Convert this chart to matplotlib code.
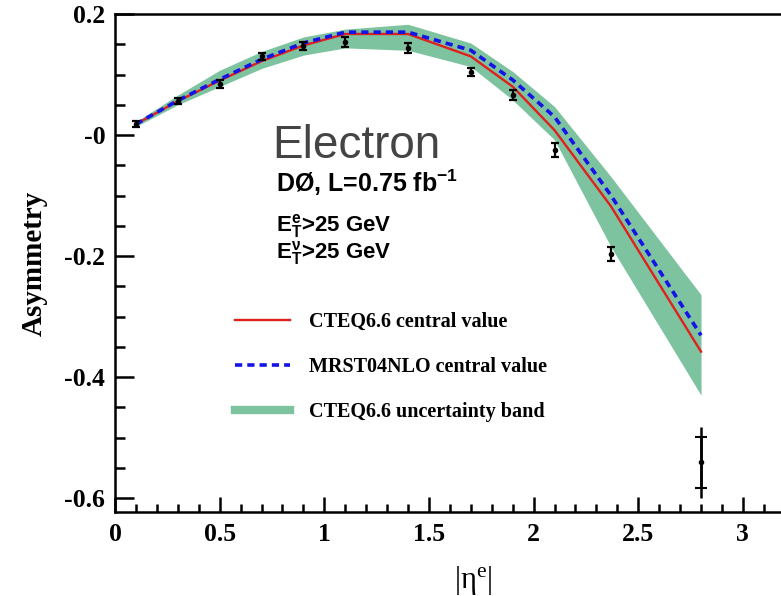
import matplotlib
matplotlib.use("Agg")
import matplotlib.pyplot as plt
from matplotlib.lines import Line2D
from matplotlib.ticker import MultipleLocator, FixedLocator, FixedFormatter

plt.rcParams['mathtext.fontset'] = 'custom'
plt.rcParams['mathtext.rm'] = 'Liberation Serif'
plt.rcParams['mathtext.sf'] = 'Liberation Sans:bold'

# data points
eta = [0.1, 0.3, 0.5, 0.7, 0.9, 1.1, 1.4, 1.7, 1.9, 2.1, 2.37]
asym = [0.018, 0.056, 0.084, 0.130, 0.147, 0.154, 0.144, 0.104, 0.066, -0.025, -0.197]
err = [0.005, 0.005, 0.007, 0.006, 0.006, 0.008, 0.008, 0.006, 0.008, 0.011, 0.012]
eta_last = [2.8]
asym_last = [-0.541]
err_last_stat = [0.042]
err_last_tot = [0.059]

# theory curves
th_eta = [0.1, 0.3, 0.5, 0.7, 0.9, 1.1, 1.4, 1.7, 1.9, 2.1, 2.37, 2.8]
cteq = [0.018, 0.056, 0.090, 0.122, 0.148, 0.167, 0.167, 0.130, 0.080, 0.008, -0.118, -0.358]
mrst = [0.018, 0.057, 0.092, 0.125, 0.152, 0.170, 0.170, 0.140, 0.091, 0.030, -0.100, -0.331]
band_hi = [0.022, 0.066, 0.107, 0.138, 0.162, 0.175, 0.183, 0.152, 0.105, 0.047, -0.069, -0.264]
band_lo = [0.014, 0.050, 0.080, 0.110, 0.132, 0.144, 0.140, 0.113, 0.058, -0.008, -0.185, -0.430]

yticks = [0.2, 0.0, -0.2, -0.4, -0.6]
ytick_labels = ['0.2', '-0', '-0.2', '-0.4', '-0.6']
xticks = [0, 0.5, 1, 1.5, 2, 2.5, 3]
xtick_labels = ['0', '0.5', '1', '1.5', '2', '2.5', '3']

green = '#7dc3a0'
red = '#e0201c'
blue = '#1414e6'

fig = plt.figure(figsize=(7.81, 5.96), dpi=100)
ax_w = 3.3 * 209.3
ax = fig.add_axes([115/781, 1-512/596, ax_w/781, 498/596])
ax.set_xlim(0, 3.3)
ax.set_ylim(-0.623, 0.2)

ax.fill_between(th_eta, band_lo, band_hi, color=green, lw=0, zorder=1)
ax.plot(th_eta, cteq, color=red, lw=1.7, zorder=2)
ax.plot(th_eta, mrst, color=blue, lw=2.6, dashes=(2.0, 1.4), zorder=3)

ax.errorbar(eta, asym, yerr=err, fmt='o', ms=3, color='black', ecolor='black',
            elinewidth=1.6, capsize=3, capthick=1.6, zorder=5)
ax.errorbar(eta_last, asym_last, yerr=err_last_tot, fmt='o', ms=3, color='black',
            elinewidth=1.8, capsize=0, zorder=5)
ax.errorbar(eta_last, asym_last, yerr=err_last_stat, fmt='none', ecolor='black',
            elinewidth=1.8, capsize=4, capthick=1.5, zorder=5)

serif_bold = dict(family='Liberation Serif', weight='bold')

ax.yaxis.set_major_locator(FixedLocator(yticks))
ax.yaxis.set_major_formatter(FixedFormatter(ytick_labels))
ax.yaxis.set_minor_locator(MultipleLocator(0.05))
ax.xaxis.set_major_locator(FixedLocator(xticks))
ax.xaxis.set_major_formatter(FixedFormatter(xtick_labels))
ax.xaxis.set_minor_locator(MultipleLocator(0.1))

ax.tick_params(axis='both', which='both', direction='in', width=1.8, color='black')
ax.tick_params(axis='y', which='major', length=14, pad=7)
ax.tick_params(axis='y', which='minor', length=7)
ax.tick_params(axis='x', which='major', length=11, pad=8)
ax.tick_params(axis='x', which='minor', length=6)
ax.tick_params(top=False, right=False, which='both')
for lab in ax.get_xticklabels() + ax.get_yticklabels():
    lab.set_fontfamily('Liberation Serif')
    lab.set_fontweight('bold')
    lab.set_fontsize(18.5)
for sp in ax.spines.values():
    sp.set_linewidth(1.8)

ax.set_ylabel('Asymmetry', fontsize=21, labelpad=12, **serif_bold)
ax.set_xlabel(r'$\mathrm{|η^{e}|}$', fontsize=22)
ax.xaxis.set_label_coords((473-115)/ax_w, -0.105)

ax.text(0.75, -0.038, 'Electron', fontsize=33, color='#444444',
        family='Liberation Sans', ha='left', va='baseline')
ax.text(0.769, -0.094, r'DØ, L=0.75 fb$^{\mathsf{-1}}$', fontsize=18,
        family='Liberation Sans', weight='bold', ha='left', va='baseline')
ax.text(0.769, -0.160, r'E$_{\mathsf{T}}^{\mathsf{e}}$>25 GeV', fontsize=16,
        family='Liberation Sans', weight='bold', ha='left', va='baseline')
ax.text(0.769, -0.204, r'E$_{\mathsf{T}}^{\mathsf{ν}}$>25 GeV', fontsize=16,
        family='Liberation Sans', weight='bold', ha='left', va='baseline')

handles = [Line2D([], [], color=red, lw=1.7),
           Line2D([], [], color=blue, lw=2.6, dashes=(2.0, 1.4)),
           Line2D([], [], color=green, lw=6)]
labels = ['CTEQ6.6 central value', 'MRST04NLO central value', 'CTEQ6.6 uncertainty band']
leg = ax.legend(handles, labels, loc='upper left',
                bbox_to_anchor=((235-115)/ax_w, (512-312)/498),
                frameon=False, borderpad=0, borderaxespad=0,
                handlelength=2.75, handletextpad=0.9, labelspacing=1.25,
                prop=dict(family='Liberation Serif', weight='bold', size=14.5))

fig.savefig('out.png', dpi=100)
